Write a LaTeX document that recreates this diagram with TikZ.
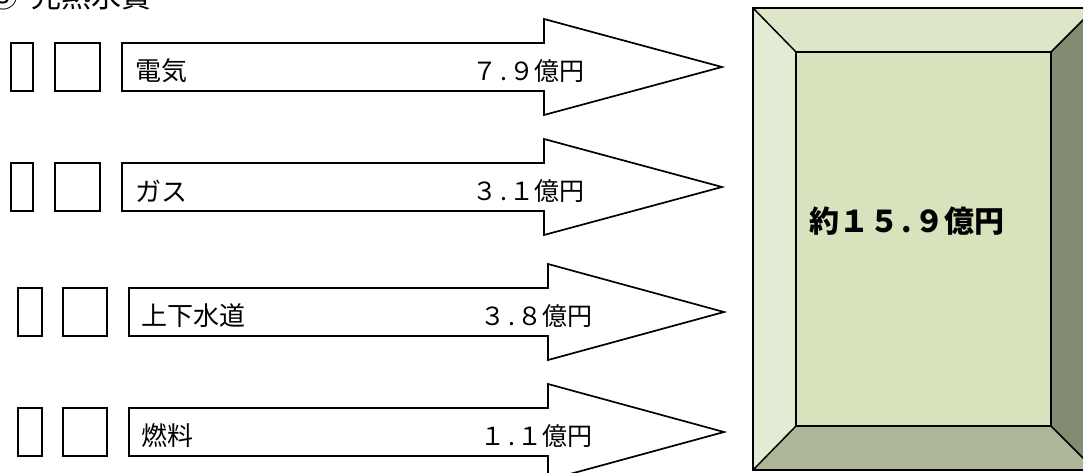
\documentclass[tikz,border=0pt]{standalone}
\usepackage{fontspec}
\setmainfont{Noto Sans CJK JP}
\definecolor{bvleft}{HTML}{E3EBD5}
\definecolor{bvtop}{HTML}{DDE6C9}
\definecolor{bvmid}{HTML}{D7E3BC}
\definecolor{bvbot}{HTML}{ABB797}
\definecolor{bvright}{HTML}{838C72}
\newcommand\hp{\makebox[.5em]{.}}
\newcommand\flowarrow[4]{%
  \draw[shapeline] (#1,#2-24) -- (#3,#2-24) -- (#3,#2-48) -- (#4,#2) -- (#3,#2+48) -- (#3,#2+24) -- (#1,#2+24) -- cycle;}
\begin{document}
\begin{tikzpicture}[x=1pt,y=-1pt,
  shapeline/.style={draw=black, fill=white, line width=1.7pt, line join=miter},
  lab/.style={font=\fontsize{26}{30}\selectfont, inner sep=0pt, anchor=west},
  val/.style={font=\fontsize{25}{30}\selectfont, inner sep=0pt, anchor=east},
  ttl/.style={font=\fontsize{30}{36}\selectfont, inner sep=0pt},
  bevline/.style={draw=black, line width=1.5pt, line join=miter}]
\useasboundingbox (0,0) rectangle (1083,473);
% title
\node[ttl, anchor=base east] (num) at (19,8) {③};
\node[ttl, anchor=base west] (title) at (31,8) {光熱水費};
% row 1
\draw[shapeline] (11,43) rectangle (33,91);
\draw[shapeline] (55,43) rectangle (100,91);
\flowarrow{122}{67}{544}{722}
\node[lab] (l1) at (135,71) {電気};
\node[val] (v1) at (585,71) {７\hp９億円};
% row 2
\draw[shapeline] (11,163) rectangle (33,211);
\draw[shapeline] (55,163) rectangle (100,211);
\flowarrow{122}{187}{544}{722}
\node[lab] (l2) at (135,191) {ガス};
\node[val] (v2) at (585,191) {３\hp１億円};
% row 3
\draw[shapeline] (18,288) rectangle (42,336);
\draw[shapeline] (63,288) rectangle (107,336);
\flowarrow{129}{312}{548}{724}
\node[lab] (l3) at (141,316) {上下水道};
\node[val] (v3) at (593,316) {３\hp８億円};
% row 4
\draw[shapeline] (18,408) rectangle (42,456);
\draw[shapeline] (63,408) rectangle (107,456);
\flowarrow{129}{432}{548}{724}
\node[lab] (l4) at (141,436) {燃料};
\node[val] (v4) at (593,436) {１\hp１億円};
% bevel box
\fill[bvleft] (753,8) -- (796,52) -- (796,426) -- (753,470) -- cycle;
\fill[bvtop] (753,8) -- (1095,8) -- (1051,52) -- (796,52) -- cycle;
\fill[bvright] (1095,8) -- (1095,470) -- (1051,426) -- (1051,52) -- cycle;
\fill[bvbot] (753,470) -- (1095,470) -- (1051,426) -- (796,426) -- cycle;
\fill[bvmid] (796,52) rectangle (1051,426);
\draw[bevline] (753,8) rectangle (1095,470);
\draw[bevline] (796,52) rectangle (1051,426);
\draw[bevline] (753,8) -- (796,52);
\draw[bevline] (1095,8) -- (1051,52);
\draw[bevline] (753,470) -- (796,426);
\draw[bevline] (1095,470) -- (1051,426);
\node[font=\fontsize{30}{36}\selectfont\bfseries, inner sep=0pt] (total) at (907,221) {約１５\hp９億円};
\end{tikzpicture}
\end{document}
